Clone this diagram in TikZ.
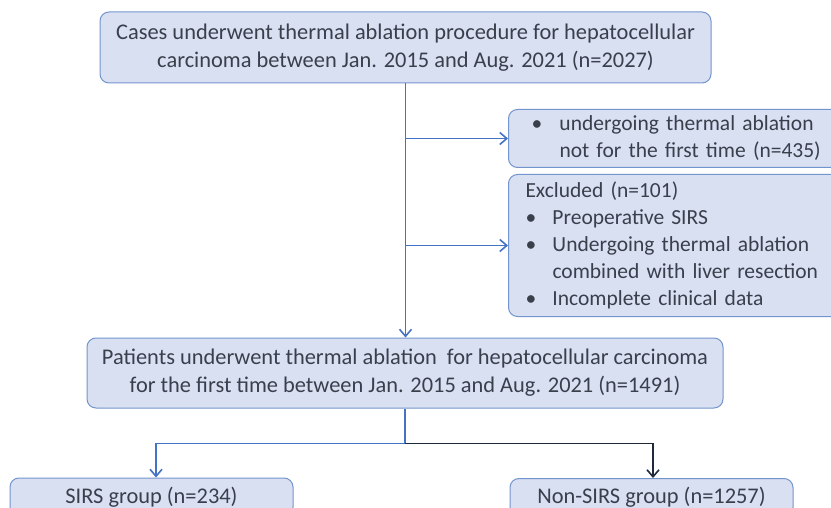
\documentclass[tikz,border=0pt]{standalone}
\usepackage{fontspec}
\setmainfont{Carlito}
\usetikzlibrary{arrows.meta}
\definecolor{boxfill}{HTML}{D8E0F2}
\definecolor{boxline}{HTML}{7394CC}
\definecolor{flow}{HTML}{4472C4}
\definecolor{flowdark}{HTML}{1E2A3C}
\definecolor{txt}{HTML}{3A3F4C}
\begin{document}
\begin{tikzpicture}[x=1pt,y=-1pt,
  box/.style={draw=boxline, fill=boxfill, line width=1pt, rounded corners=9pt,
    text=txt, font=\fontsize{22.4}{28}\selectfont, inner sep=0pt},
  sidebox/.style={box, anchor=north west, text width=330pt, align=left,
    font=\fontsize{21.5}{27}\selectfont},
  flowline/.style={draw=flow, line width=1.6pt},
  flowarrow/.style={flowline, -{Straight Barb[length=7pt,width=12pt]}}
]
\useasboundingbox (0,0) rectangle (831,508);

\node[box, minimum width=611pt, minimum height=71pt, align=center] (top) at (405.5,47.5)
  {Cases underwent thermal ablation procedure for hepatocellular\\carcinoma between Jan. 2015 and Aug. 2021 (n=2027)};

\node[sidebox, minimum height=58pt, inner xsep=23pt] (rep) at (508,109)
  {\makebox[28pt][l]{•}undergoing thermal ablation\\\hspace*{28pt}not for the first time (n=435)};

\node[sidebox, minimum height=142pt, inner xsep=17pt] (exc) at (508,174)
  {Excluded (n=101)\\
   \makebox[27pt][l]{•}Preoperative SIRS\\
   \makebox[27pt][l]{•}Undergoing thermal ablation\\
   \hspace*{27pt}combined with liver resection\\
   \makebox[27pt][l]{•}Incomplete clinical data};

\node[box, minimum width=636pt, minimum height=70pt, align=center] (pat) at (405,373)
  {Patients underwent thermal ablation\ \ for hepatocellular carcinoma\\for the first time between Jan. 2015 and Aug. 2021 (n=1491)};

\node[box, minimum width=283pt, minimum height=38pt] (sirs) at (151.5,497) {SIRS group (n=234)};
\node[box, minimum width=283pt, minimum height=38pt] (nons) at (651.5,497.5) {Non-SIRS group (n=1257)};

\draw[flowarrow] (top.south) -- (top.south |- pat.north);
\draw[flowarrow] (top.south |- rep.west) -- (rep.west);
\draw[flowarrow] (top.south |- exc.west) -- (exc.west);

\coordinate (split) at ([yshift=-35pt]pat.south);
\draw[flowline] (pat.south) -- (split);
\draw[flowarrow] (split) -| ([xshift=4.5pt]sirs.north);
\draw[flowarrow, draw=flowdark] (split) -| ([xshift=1.5pt]nons.north);
\end{tikzpicture}
\end{document}
